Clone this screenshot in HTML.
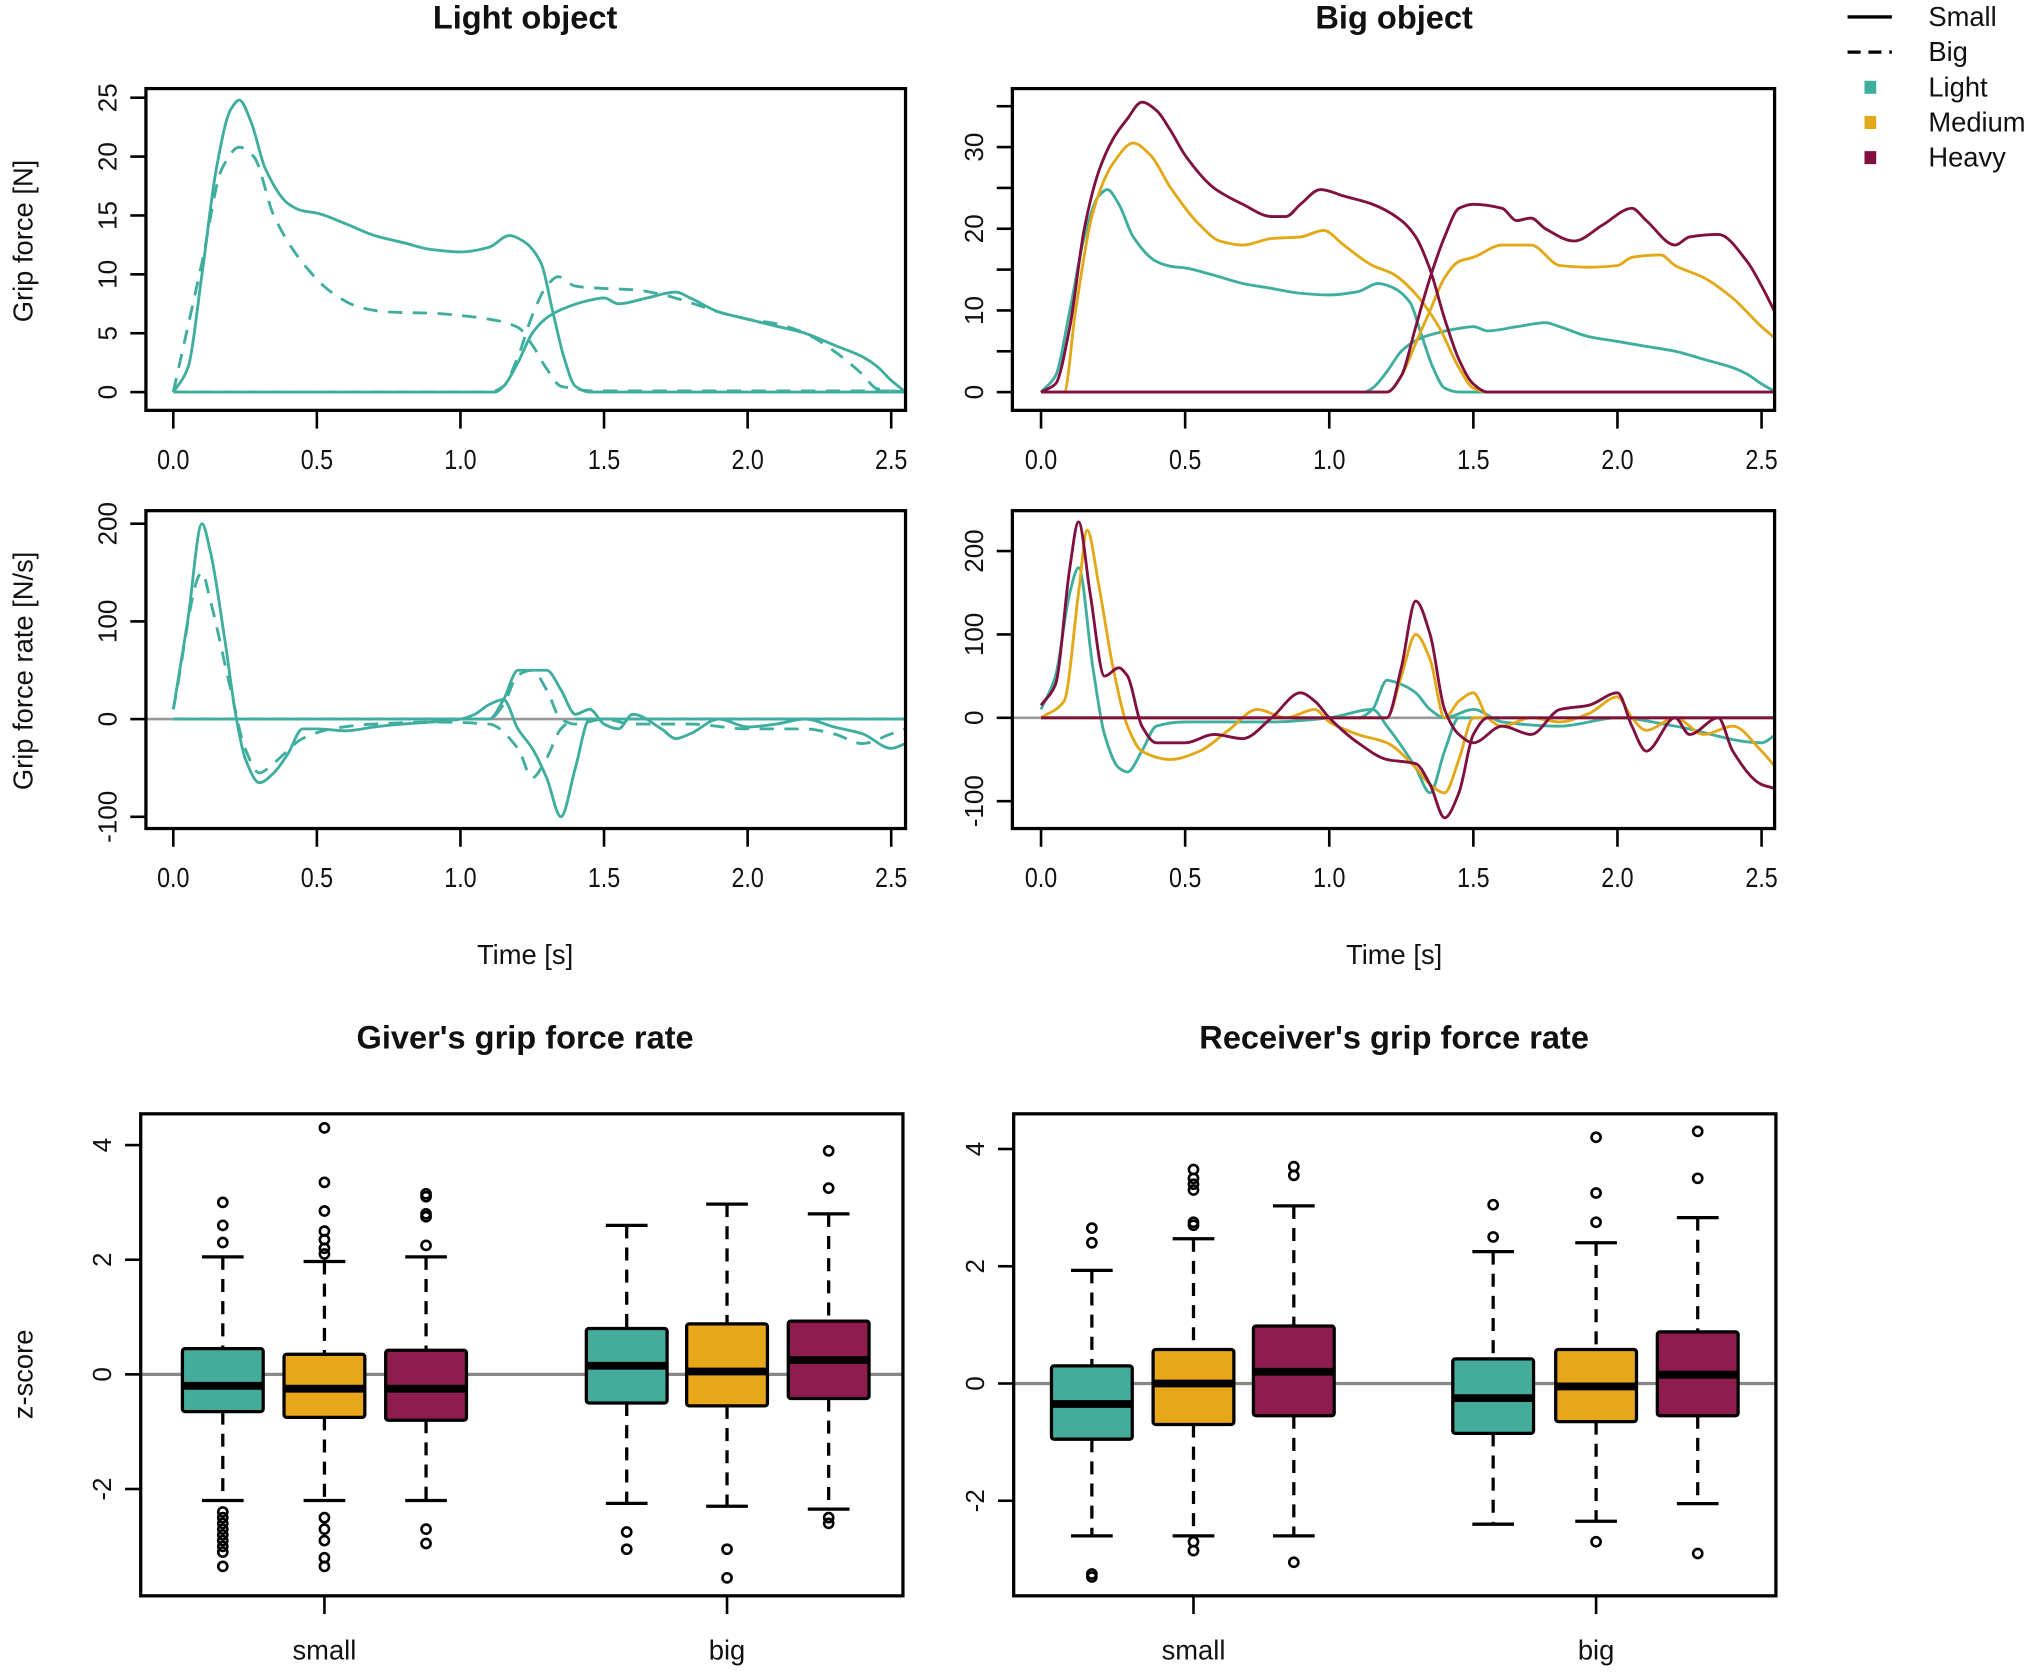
<!DOCTYPE html>
<html><head><meta charset="utf-8"><style>
html,body{margin:0;padding:0;background:#fff}
svg{display:block}
text{font-family:"Liberation Sans",sans-serif;fill:#111}
</style></head><body>
<svg id="fig" width="2043" height="1674" viewBox="0 0 1568 1285" preserveAspectRatio="none" xmlns="http://www.w3.org/2000/svg"></svg>
<script>
// ---------- DATA ----------
const forceTimes = [0,0.05,0.1,0.15,0.2,0.23,0.27,0.32,0.4,0.45,0.5,0.6,0.7,0.8,0.9,1.0,1.1,1.17,1.22,1.28,1.32,1.36,1.4,1.45,2.55];
const lightSmallGiver = [0,2,10,19,24,24.8,23,19,16,15.4,15.2,14.3,13.3,12.7,12.1,11.9,12.3,13.3,12.8,11,7,3,0.5,0,0];
const recvTimes = [0,1.12,1.15,1.2,1.25,1.3,1.35,1.45,1.5,1.55,1.65,1.75,1.8,1.9,2.0,2.1,2.2,2.3,2.4,2.45,2.5,2.55];
const lightSmallRecv = [0,0,0.5,2.5,5,6.3,7,7.8,8,7.5,8,8.5,8,6.8,6.2,5.6,5,4,3,2.2,1,0];
const bigGiverTimes = [0,0.1,0.17,0.23,0.28,0.35,0.45,0.55,0.65,0.75,0.9,1.0,1.1,1.2,1.25,1.3,1.35,1.4,1.45,2.55];
const lightBigGiver = [0,11,19,20.8,20,15,11,8.5,7.2,6.8,6.7,6.5,6.2,5.5,4,2,0.5,0.3,0.1,0.1];
const bigRecvTimes = [0,1.1,1.15,1.2,1.25,1.3,1.34,1.4,1.5,1.6,1.7,1.8,1.9,2.0,2.1,2.2,2.3,2.4,2.45,2.55];
const lightBigRecv = [0,0,0.5,3,6.5,9,9.8,9,8.8,8.7,8.3,7.6,6.8,6.2,5.8,5,3.5,1.5,0.3,0];

const medGiverTimes = [0,0.08,0.12,0.18,0.25,0.32,0.38,0.45,0.55,0.62,0.7,0.8,0.9,0.98,1.05,1.15,1.22,1.3,1.38,1.45,1.5,1.55,2.55];
const mediumGiver = [0,0,10,22,28,30.5,29,25,20.5,18.5,18,18.8,19,19.8,18,15.5,14.5,12,8,3,0.5,0,0];
const medRecvTimes = [0,1.2,1.25,1.3,1.35,1.4,1.45,1.5,1.6,1.7,1.8,1.9,2.0,2.05,2.15,2.2,2.3,2.4,2.5,2.55];
const mediumRecv = [0,0,2,6,10,14,16,16.5,18,18,15.5,15.3,15.5,16.5,16.8,15.5,14,11.5,8,6.5];
const heavyGiverTimes = [0,0.05,0.1,0.15,0.2,0.25,0.3,0.35,0.4,0.45,0.5,0.6,0.7,0.8,0.85,0.9,0.97,1.05,1.15,1.25,1.3,1.35,1.4,1.45,1.5,1.55,2.55];
const heavyGiver = [0,1,8,20,27,31,33.5,35.5,34.5,32,29,25,23,21.5,21.5,23,24.8,24,23,21,19,15,9,4,1,0,0];
const heavyRecvTimes = [0,1.2,1.25,1.3,1.35,1.4,1.45,1.5,1.6,1.65,1.7,1.75,1.85,1.95,2.05,2.1,2.2,2.25,2.35,2.45,2.5,2.55];
const heavyRecv = [0,0,2,8,14,19,22.5,23,22.5,21,21.3,20,18.5,20.5,22.5,21,18,19,19.3,16,13,9.5];

const rateGiverTimes = [0,0.05,0.1,0.13,0.18,0.22,0.25,0.3,0.35,0.4,0.45,0.5,0.6,0.7,0.8,0.9,1.0,1.05,1.1,1.15,1.2,1.25,1.3,1.35,1.4,1.45,2.55];
const rateSmallGiver = [10,100,200,170,80,0,-40,-65,-55,-35,-10,-10,-12,-8,-5,-3,0,5,15,20,-10,-30,-60,-100,-50,0,0];
const rateRecvTimes = [0,1.1,1.15,1.2,1.3,1.35,1.4,1.45,1.5,1.55,1.6,1.7,1.75,1.8,1.9,2.0,2.1,2.2,2.3,2.4,2.5,2.55];
const rateSmallRecv = [0,0,20,50,50,30,5,10,-5,-10,5,-10,-20,-15,0,-8,-5,0,-8,-15,-30,-25];
const rateBigGiverTimes = [0,0.1,0.13,0.2,0.25,0.3,0.35,0.45,0.55,0.7,0.9,1.1,1.2,1.25,1.3,1.35,1.4,2.55];
const rateBigGiver = [10,150,120,30,-30,-55,-45,-20,-10,-5,-3,-5,-30,-60,-40,-10,0,0];
const rateBigRecvTimes = [0,1.1,1.15,1.2,1.25,1.3,1.35,1.4,1.5,1.6,1.8,2.0,2.2,2.3,2.4,2.5,2.55];
const rateBigRecv = [0,0,15,45,50,30,0,-5,0,-5,-5,-10,-10,-15,-25,-15,-10];

const rate4LightGiverTimes = [0,0.05,0.1,0.13,0.18,0.22,0.27,0.3,0.35,0.4,0.5,0.8,1.0,1.15,1.2,1.3,1.35,1.4,1.45,2.55];
const rate4LightGiver = [10,50,150,180,60,-20,-60,-65,-40,-10,-5,-5,0,10,-10,-60,-90,-40,0,0];
const rate4LightRecvTimes = [0,1.1,1.15,1.2,1.25,1.3,1.35,1.4,1.5,1.6,1.8,2.0,2.2,2.5,2.55];
const rate4LightRecv = [0,0,10,45,40,30,10,0,10,-5,-10,0,-10,-30,-20];
const rate4MedGiverTimes = [0,0.08,0.13,0.16,0.2,0.25,0.3,0.35,0.45,0.55,0.65,0.75,0.85,0.95,1.0,1.1,1.2,1.3,1.35,1.4,1.45,1.5,1.55,2.55];
const rate4MedGiver = [0,20,150,225,160,60,-10,-40,-50,-40,-15,10,0,10,-5,-20,-30,-60,-80,-90,-50,0,0,0];
const rate4MedRecvTimes = [0,1.2,1.25,1.3,1.35,1.4,1.45,1.5,1.55,1.6,1.7,1.8,1.9,2.0,2.05,2.1,2.2,2.3,2.4,2.5,2.55];
const rate4MedRecv = [0,0,50,100,70,0,20,30,0,-10,0,-5,5,25,0,-15,0,-20,-10,-40,-60];
const rate4HeavyGiverTimes = [0,0.05,0.1,0.13,0.17,0.22,0.27,0.3,0.35,0.4,0.5,0.6,0.7,0.8,0.9,0.95,1.0,1.1,1.2,1.3,1.35,1.4,1.45,1.5,1.55,2.55];
const rate4HeavyGiver = [15,40,180,235,150,50,60,50,-10,-30,-30,-20,-25,0,30,20,0,-30,-50,-55,-80,-120,-90,-20,0,0];
const rate4HeavyRecvTimes = [0,1.2,1.25,1.3,1.35,1.4,1.45,1.5,1.6,1.7,1.8,1.9,2.0,2.05,2.1,2.2,2.25,2.35,2.4,2.5,2.55];
const rate4HeavyRecv = [0,0,60,140,100,10,-20,-30,-10,-20,10,15,30,-10,-40,0,-20,0,-40,-80,-85];

const timeTicks = [0,0.5,1.0,1.5,2.0,2.5];
const timeTickLabels = ["0.0","0.5","1.0","1.5","2.0","2.5"];

// boxplots: [lowWhisker, q1, median, q3, highWhisker]
const boxGroups = ["small","big"];
const giverStats = [[-2.2,-0.65,-0.2,0.45,2.05],[-2.2,-0.75,-0.25,0.35,1.97],[-2.2,-0.8,-0.25,0.42,2.05],
                    [-2.25,-0.5,0.15,0.8,2.6],[-2.3,-0.55,0.05,0.88,2.97],[-2.35,-0.42,0.25,0.93,2.8]];
const giverOutliers = [[3.0,2.6,2.3,-2.4,-2.5,-2.6,-2.7,-2.8,-2.9,-3.0,-3.1,-3.35],
                       [4.3,3.35,2.85,2.5,2.35,2.2,2.1,-2.5,-2.7,-2.9,-3.2,-3.35],
                       [3.15,3.1,2.8,2.75,2.25,-2.7,-2.95],[-2.75,-3.05],[-3.05,-3.55],[3.9,3.25,-2.5,-2.6]];
const recvStats = [[-2.6,-0.95,-0.35,0.3,1.93],[-2.6,-0.7,0,0.58,2.47],[-2.6,-0.55,0.2,0.98,3.03],
                   [-2.4,-0.85,-0.25,0.42,2.25],[-2.35,-0.65,-0.05,0.58,2.4],[-2.05,-0.55,0.15,0.88,2.83]];
const recvOutliers = [[2.65,2.4,-3.25,-3.3],[3.65,3.5,3.4,3.3,2.75,2.7,-2.7,-2.85],[3.7,3.55,-3.05],
                      [3.05,2.5],[4.2,3.25,2.75,-2.7],[4.3,3.5,-2.9]];
const zTicks = [-2,0,2,4];

// ---------- DRAW ----------
const NS="http://www.w3.org/2000/svg";
const svg=document.getElementById('fig');
const TEAL="#3fae9e", GOLD="#e3a818", MAROON="#7f1040";
const BOXC=["#45ab9b","#e8a71b","#8e1c4e"];
function el(tag,attrs,parent){const e=document.createElementNS(NS,tag);for(const k in attrs)e.setAttribute(k,attrs[k]);(parent||svg).appendChild(e);return e;}
function txt(x,y,s,size,opts){const t=el('text',Object.assign({x:x,y:y,'font-size':size,'text-anchor':'middle'},opts||{}));t.textContent=s;return t;}
// monotone cubic (Fritsch-Carlson) in x
function smooth(p){const n=p.length;const dx=[],m=[],t=new Array(n).fill(0);
  for(let i=0;i<n-1;i++){dx[i]=p[i+1][0]-p[i][0];m[i]=(p[i+1][1]-p[i][1])/dx[i];}
  t[0]=m[0];t[n-1]=m[n-2];
  for(let i=1;i<n-1;i++){ if(m[i-1]*m[i]<=0) t[i]=0; else {const w1=2*dx[i]+dx[i-1],w2=dx[i]+2*dx[i-1];t[i]=(w1+w2)/(w1/m[i-1]+w2/m[i]);}}
  let d='M'+p[0][0].toFixed(1)+','+p[0][1].toFixed(1);
  for(let i=0;i<n-1;i++){const h=dx[i]/3;
    d+=' C'+(p[i][0]+h).toFixed(1)+','+(p[i][1]+t[i]*h).toFixed(1)+' '+(p[i+1][0]-h).toFixed(1)+','+(p[i+1][1]-t[i+1]*h).toFixed(1)+' '+p[i+1][0].toFixed(1)+','+p[i+1][1].toFixed(1);}
  return d;}

function panel(cfg){
  const g=el('g',{});
  
  
  const xs=t=>cfg.x0+t*(cfg.x25-cfg.x0)/2.5, ys=v=>cfg.yz+v*cfg.yk;
  if(cfg.zero){const z=el('line',{x1:cfg.L,x2:cfg.R,y1:ys(0),y2:ys(0),stroke:'#999','stroke-width':2},g);
    }
  const clip='clip'+cfg.name;
  const cp=el('clipPath',{id:clip},g);el('rect',{x:cfg.L,y:cfg.T,width:cfg.R-cfg.L,height:cfg.B-cfg.T},cp);
  cfg.series.forEach(s=>{
    const pts=s.t.map((t,i)=>[xs(t),ys(s.v[i])]);
    const p=el('path',{d:smooth(pts),fill:'none',stroke:s.c,'stroke-width':2.2,'clip-path':'url(#'+clip+')'},g);
    if(s.dash)p.setAttribute('stroke-dasharray','11,8');
    
    
  });
  const box=el('rect',{x:cfg.L,y:cfg.T,width:cfg.R-cfg.L,height:cfg.B-cfg.T,fill:'none',stroke:'#000','stroke-width':2.5},g);
  
  timeTicks.forEach((t,i)=>{el('line',{x1:xs(t),x2:xs(t),y1:cfg.B,y2:cfg.B+14,stroke:'#000','stroke-width':2},g);
    const l=txt(xs(t),cfg.B+45,timeTickLabels[i],21,{transform:`translate(${xs(t)},${cfg.B+45}) scale(0.85,1) translate(${-xs(t)},${-(cfg.B+45)})`});
    });
  cfg.yticks.forEach(v=>{el('line',{x1:cfg.L,x2:cfg.L-12,y1:ys(v),y2:ys(v),stroke:'#000','stroke-width':2},g);});
  cfg.ylabels.forEach(v=>{const x=cfg.L-28,y=ys(v);const l=txt(x,y,String(v),20,{transform:`rotate(-90 ${x} ${y})`,'dominant-baseline':'middle'});
    });
}

const topL={L:112,R:695,T:68,B:315}, topR={L:777,R:1362,T:68,B:315};
panel(Object.assign({name:'light-force-panel',x0:133,x25:684,yz:301,yk:-9.04,yticks:[0,5,10,15,20,25],ylabels:[0,5,10,15,20,25],
 series:[{t:forceTimes,v:lightSmallGiver,c:TEAL,name:'small-giver-line'},{t:recvTimes,v:lightSmallRecv,c:TEAL,name:'small-receiver-line'},
 {t:bigGiverTimes,v:lightBigGiver,c:TEAL,dash:1,name:'big-giver-line'},{t:bigRecvTimes,v:lightBigRecv,c:TEAL,dash:1,name:'big-receiver-line'}]},topL));
panel(Object.assign({name:'big-force-panel',x0:799,x25:1352,yz:301,yk:-6.27,yticks:[0,5,10,15,20,25,30,35],ylabels:[0,10,20,30],
 series:[{t:forceTimes,v:lightSmallGiver,c:TEAL,name:'light-giver-line'},{t:recvTimes,v:lightSmallRecv,c:TEAL,name:'light-receiver-line'},
 {t:medGiverTimes,v:mediumGiver,c:GOLD,name:'medium-giver-line'},{t:medRecvTimes,v:mediumRecv,c:GOLD,name:'medium-receiver-line'},
 {t:heavyGiverTimes,v:heavyGiver,c:MAROON,name:'heavy-giver-line'},{t:heavyRecvTimes,v:heavyRecv,c:MAROON,name:'heavy-receiver-line'}]},topR));
panel(Object.assign({name:'light-rate-panel',zero:1,x0:133,x25:684,yz:552,yk:-0.75,yticks:[-100,0,100,200],ylabels:[-100,0,100,200],
 series:[{t:rateGiverTimes,v:rateSmallGiver,c:TEAL,name:'small-giver-rate'},{t:rateRecvTimes,v:rateSmallRecv,c:TEAL,name:'small-receiver-rate'},
 {t:rateBigGiverTimes,v:rateBigGiver,c:TEAL,dash:1,name:'big-giver-rate'},{t:rateBigRecvTimes,v:rateBigRecv,c:TEAL,dash:1,name:'big-receiver-rate'}]},
 {L:112,R:695,T:392,B:636}));
panel(Object.assign({name:'big-rate-panel',zero:1,x0:799,x25:1352,yz:551,yk:-0.64,yticks:[-100,0,100,200],ylabels:[-100,0,100,200],
 series:[{t:rate4LightGiverTimes,v:rate4LightGiver,c:TEAL,name:'light-giver-rate'},{t:rate4LightRecvTimes,v:rate4LightRecv,c:TEAL,name:'light-receiver-rate'},
 {t:rate4MedGiverTimes,v:rate4MedGiver,c:GOLD,name:'medium-giver-rate'},{t:rate4MedRecvTimes,v:rate4MedRecv,c:GOLD,name:'medium-receiver-rate'},
 {t:rate4HeavyGiverTimes,v:rate4HeavyGiver,c:MAROON,name:'heavy-giver-rate'},{t:rate4HeavyRecvTimes,v:rate4HeavyRecv,c:MAROON,name:'heavy-receiver-rate'}]},
 {L:777,R:1362,T:392,B:636}));

function label(x,y,s,size,name,opts){const t=txt(x,y,s,size,opts);return t;}
label(403,22,'Light object',25,'title-light-object',{'font-weight':'bold'});
label(1070,22,'Big object',25,'title-big-object',{'font-weight':'bold'});
label(25,185,'Grip force [N]',21,'y-axis-title-force',{transform:'rotate(-90 25 185)'});
label(25,515,'Grip force rate [N/s]',21,'y-axis-title-rate',{transform:'rotate(-90 25 515)'});
label(403,740,'Time [s]',21,'x-axis-title-left');
label(1070,740,'Time [s]',21,'x-axis-title-right');
label(403,805,"Giver's grip force rate",25,'title-giver',{'font-weight':'bold'});
label(1070,805,"Receiver's grip force rate",25,'title-receiver',{'font-weight':'bold'});
label(25,1055,'z-score',21,'y-axis-title-zscore',{transform:'rotate(-90 25 1055)'});

// legend
const lg=el('g',{});
[['Small','#000',0],['Big','#000',1]].forEach((r,i)=>{const y=13+i*27;
  const l=el('line',{x1:1418,x2:1452,y1:y,y2:y,stroke:'#000','stroke-width':2.5},lg);if(r[2])l.setAttribute('stroke-dasharray','10,6');
  const t=txt(1480,y+7,r[0],21,{'text-anchor':'start'});lg.appendChild(t);});
[['Light',TEAL],['Medium',GOLD],['Heavy',MAROON]].forEach((r,i)=>{const y=67+i*27;
  el('rect',{x:1431,y:y-5,width:9,height:10,fill:r[1]},lg);
  const t=txt(1480,y+7,r[0],21,{'text-anchor':'start'});lg.appendChild(t);});

function boxpanel(cfg){
  const g=el('g',{});
  const ys=v=>cfg.yz+v*cfg.yk;
  const z=el('line',{x1:cfg.L,x2:cfg.R,y1:ys(0),y2:ys(0),stroke:'#888','stroke-width':2.5},g);
  
  cfg.stats.forEach((s,i)=>{const cx=cfg.centers[i],w=62;
    el('line',{x1:cx,x2:cx,y1:ys(s[4]),y2:ys(s[3]),stroke:'#000','stroke-width':2.5,'stroke-dasharray':'10,7'},g);
    el('line',{x1:cx,x2:cx,y1:ys(s[1]),y2:ys(s[0]),stroke:'#000','stroke-width':2.5,'stroke-dasharray':'10,7'},g);
    el('line',{x1:cx-16,x2:cx+16,y1:ys(s[4]),y2:ys(s[4]),stroke:'#000','stroke-width':2.5},g);
    el('line',{x1:cx-16,x2:cx+16,y1:ys(s[0]),y2:ys(s[0]),stroke:'#000','stroke-width':2.5},g);
    const b=el('rect',{x:cx-w/2,y:ys(s[3]),width:w,height:ys(s[1])-ys(s[3]),fill:BOXC[i%3],stroke:'#000','stroke-width':2.5,rx:2},g);
    
    el('line',{x1:cx-w/2,x2:cx+w/2,y1:ys(s[2]),y2:ys(s[2]),stroke:'#000','stroke-width':6},g);
    cfg.outliers[i].forEach(o=>{el('circle',{cx:cx,cy:ys(o),r:3.5,fill:'none',stroke:'#000','stroke-width':2},g);});
  });
  const f=el('rect',{x:cfg.L,y:cfg.T,width:cfg.R-cfg.L,height:cfg.B-cfg.T,fill:'none',stroke:'#000','stroke-width':2.5},g);
  
  zTicks.forEach(v=>{el('line',{x1:cfg.L,x2:cfg.L-12,y1:ys(v),y2:ys(v),stroke:'#000','stroke-width':2},g);
    const x=cfg.L-28,y=ys(v);const t=txt(x,y,String(v),20,{transform:`rotate(-90 ${x} ${y})`,'dominant-baseline':'middle'});g.appendChild(t);
    });
  boxGroups.forEach((gname,i)=>{const cx=cfg.centers[i*3+1];
    el('line',{x1:cx,x2:cx,y1:cfg.B,y2:cfg.B+14,stroke:'#000','stroke-width':2},g);
    const t=txt(cx,cfg.B+49,gname,21);g.appendChild(t);});
}
boxpanel({name:'giver-boxplot',L:108,R:693,T:855,B:1225,yz:1055,yk:-44,centers:[171,249,327,481,558,636],stats:giverStats,outliers:giverOutliers});
boxpanel({name:'receiver-boxplot',L:778,R:1363,T:855,B:1225,yz:1062,yk:-45,centers:[838,916,993,1146,1225,1303],stats:recvStats,outliers:recvOutliers});
</script>
</body></html>
